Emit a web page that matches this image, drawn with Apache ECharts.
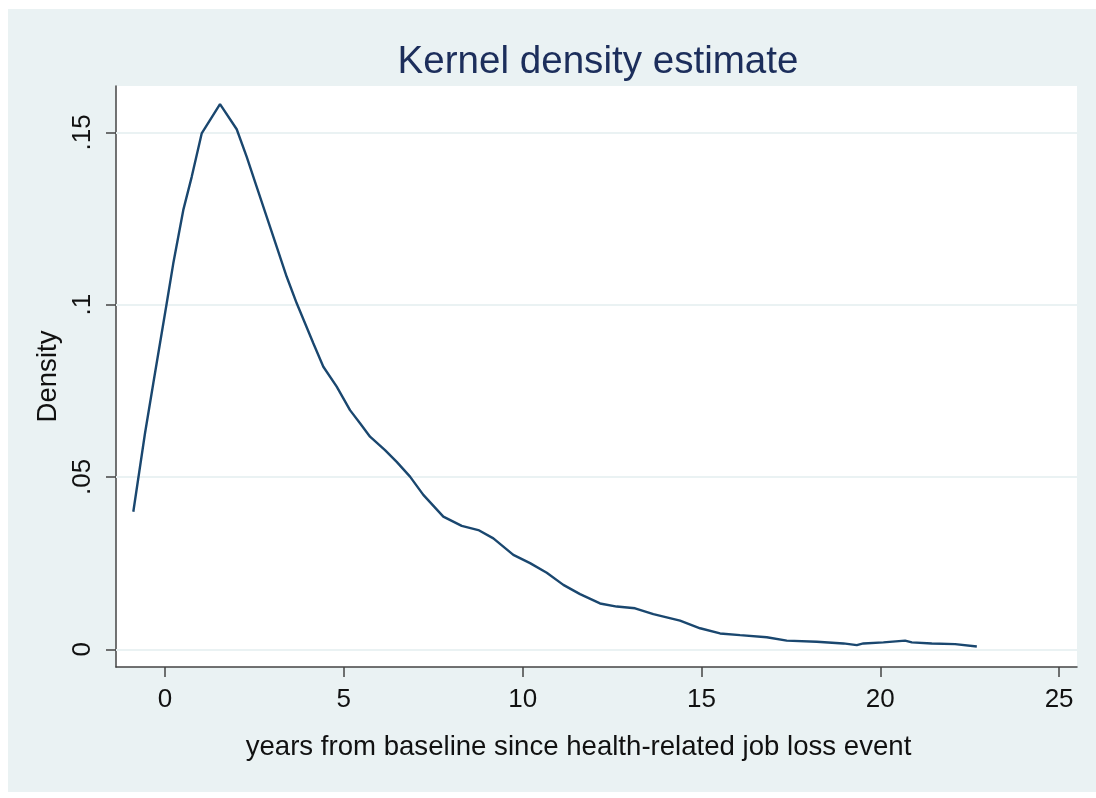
<!DOCTYPE html>
<html>
<head>
<meta charset="utf-8">
<script src="https://cdn.jsdelivr.net/npm/echarts@6/dist/echarts.min.js"></script>
<style>
  html, body { margin: 0; padding: 0; background: #ffffff; }
  #chart { width: 1096px; height: 798px; }
</style>
</head>
<body>
<div id="chart"></div>
<script>
// Data
const years = [-0.886, -0.559, -0.327, 0.048, 0.232, 0.512, 0.747, 1.026, 1.538, 2.005,
  2.285, 2.564, 2.844, 3.124, 3.403, 3.683, 3.915, 4.147, 4.427, 4.801,
  5.173, 5.453, 5.733, 6.152, 6.479, 6.851, 7.223, 7.782, 8.297, 8.761,
  9.181, 9.740, 10.207, 10.674, 11.138, 11.605, 12.164, 12.631, 13.143, 13.655,
  14.401, 14.961, 15.520, 16.079, 16.826, 17.385, 18.224, 18.968, 19.343, 19.527,
  20.087, 20.694, 20.881, 21.440, 22.092, 22.699];
const density = [0.0399, 0.0627, 0.0772, 0.1004, 0.1120, 0.1275, 0.1371, 0.1497, 0.1582, 0.1509,
  0.1429, 0.1342, 0.1255, 0.1168, 0.1081, 0.1004, 0.0946, 0.0888, 0.0820, 0.0762,
  0.0694, 0.0656, 0.0617, 0.0578, 0.0544, 0.0501, 0.0448, 0.0385, 0.0358, 0.0346,
  0.0322, 0.0274, 0.0250, 0.0222, 0.0187, 0.0160, 0.0133, 0.0124, 0.0119, 0.0102,
  0.0083, 0.0061, 0.0046, 0.0041, 0.0035, 0.0025, 0.0022, 0.0017, 0.0012, 0.0017,
  0.0020, 0.0025, 0.0020, 0.0017, 0.0015, 0.0008];
const xTicks = [0, 5, 10, 15, 20, 25];
const yTicks = [0, 0.05, 0.1, 0.15];
const yTickLabels = ["0", ".05", ".1", ".15"];

const titleText = "Kernel density estimate";
const xTitle = "years from baseline since health-related job loss event";
const yTitle = "Density";

const chart = echarts.init(document.getElementById('chart'), null, { renderer: 'canvas' });
const FONT = 'Liberation Sans, Arial, sans-serif';
const BG = '#EAF2F3';

const pts = years.map((x, i) => [x, density[i]]);

chart.setOption({
  backgroundColor: '#ffffff',
  animation: false,
  graphic: [{
    type: 'rect', z: -10, silent: true,
    shape: { x: 8, y: 9, width: 1088, height: 783 },
    style: { fill: BG }
  }],
  title: {
    text: titleText,
    left: 593, top: 38, textAlign: 'center',
    textStyle: { fontFamily: FONT, fontSize: 38.6, fontWeight: 'normal', color: '#1C2E5B' }
  },
  grid: {
    left: 116, top: 86, right: 19, bottom: 131,
    show: true, backgroundColor: '#ffffff', borderWidth: 0
  },
  xAxis: {
    type: 'value', min: -1.37, max: 25.5,
    name: xTitle, nameLocation: 'middle', nameGap: 66,
    nameTextStyle: { fontFamily: FONT, fontSize: 27.6, color: '#111', padding: [0, 36, 0, 0] },
    axisLine: { show: true, onZero: false, lineStyle: { color: '#444', width: 1.5 } },
    axisTick: { show: true, length: 10, customValues: xTicks, lineStyle: { color: '#444', width: 1.5 } },
    axisLabel: { customValues: xTicks, margin: 20, fontFamily: FONT, fontSize: 26, color: '#111' },
    splitLine: { show: false }
  },
  yAxis: {
    type: 'value', min: -0.00514, max: 0.16346,
    name: yTitle, nameLocation: 'middle', nameGap: 46, nameRotate: 90,
    nameTextStyle: { fontFamily: FONT, fontSize: 27.6, color: '#111' },
    axisLine: { show: true, onZero: false, lineStyle: { color: '#444', width: 1.5 } },
    axisTick: { show: true, length: 10, customValues: yTicks, lineStyle: { color: '#444', width: 1.5 } },
    axisLabel: {
      customValues: yTicks, rotate: 90, margin: 20,
      fontFamily: FONT, fontSize: 26, color: '#111',
      formatter: v => { const i = yTicks.findIndex(t => Math.abs(t - v) < 1e-9); return i >= 0 ? yTickLabels[i] : ''; }
    },
    splitLine: { show: false }
  },
  series: [{
    type: 'line',
    data: pts,
    showSymbol: false,
    smooth: false,
    lineStyle: { color: '#1A476F', width: 2.4 },
    z: 3,
    markLine: {
      silent: true, symbol: ['none', 'none'], label: { show: false },
      lineStyle: { color: BG, width: 2, type: 'solid' },
      z: 1,
      data: yTicks.map(v => ({ yAxis: v }))
    }
  }]
});
</script>
</body>
</html>
